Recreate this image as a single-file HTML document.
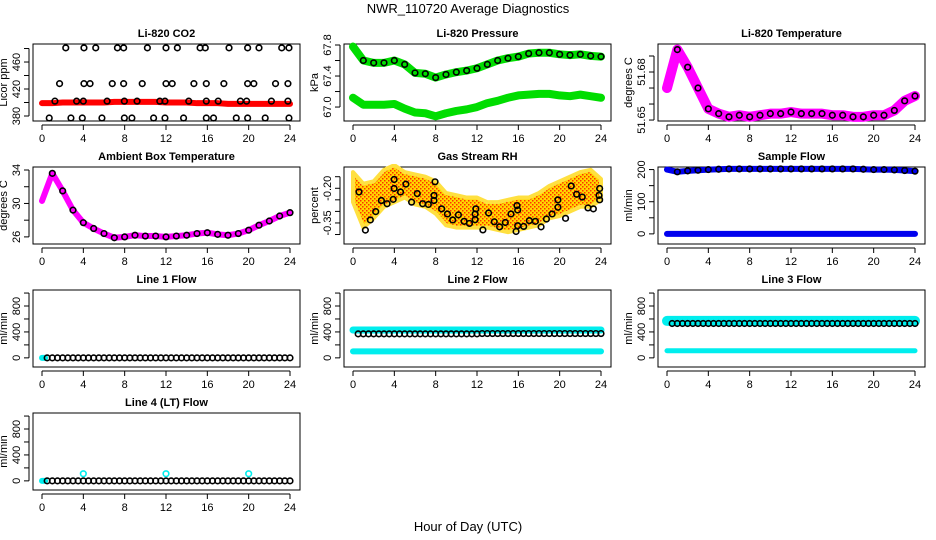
<!DOCTYPE html>
<html><head><meta charset="utf-8"><style>
body{margin:0;background:#fff;}
svg{display:block;font-family:"Liberation Sans",Arial,sans-serif;}
</style></head><body>
<svg id="chart" width="936" height="540" viewBox="0 0 936 540">
<defs>
<pattern id="rhpat" width="4" height="4" patternUnits="userSpaceOnUse"><rect width="4" height="4" fill="#ffd700"/><rect width="1.5" height="1.5" fill="#ff3000"/><rect x="2" y="2" width="1.5" height="1.5" fill="#ff3000"/></pattern>
</defs>
<text x="468" y="13" text-anchor="middle" font-size="13">NWR_110720  Average Diagnostics</text>
<text x="468" y="531" text-anchor="middle" font-size="13">Hour of Day (UTC)</text>
</svg>
<script>
// ---- data ----
const hours = [0,1,2,3,4,5,6,7,8,9,10,11,12,13,14,15,16,17,18,19,20,21,22,23,24];
const halfHours = [0.5,1,1.5,2,2.5,3,3.5,4,4.5,5,5.5,6,6.5,7,7.5,8,8.5,9,9.5,10,10.5,11,11.5,12,12.5,13,13.5,14,14.5,15,15.5,16,16.5,17,17.5,18,18.5,19,19.5,20,20.5,21,21.5,22,22.5,23,23.5,24];
const co2Band = [399,399,400,400,400,400,400,401,401,401,401,401,400,400,400,399,399,399,398,398,398,398,398,398,398];
const co2PtsHour = [2.3,4.06,5.2,7.3,7.9,10.2,12,13.1,15.3,15.8,18.1,19.9,21.0,23.2,23.9,
 1.7,4.06,4.65,6.8,7.9,9.7,12,12.6,14.7,15.9,17.6,19.9,20.5,22.6,23.8,
 1.25,3.35,4.0,6.3,7.97,9.2,11.4,11.9,14.2,15.9,17.05,19.2,19.8,22.2,23.8,
 0.7,2.8,3.9,5.8,7.97,8.7,10.8,11.9,13.7,15.9,16.6,18.8,19.9,21.6,23.9];
const co2PtsVal = [481,481,481,481,481,481,481,481,481,481,481,481,481,481,481,
 428,428,428,428,428,428,428,428,428,428,428,428,428,428,428,
 402,402,402,402,402,402,402,402,402,402,402,402,402,402,402,
 377,377,377,377,377,377,377,377,377,377,377,377,377,377,377];
const presUpper = [67.78,67.6,67.57,67.57,67.6,67.55,67.44,67.43,67.38,67.42,67.45,67.47,67.5,67.55,67.6,67.63,67.65,67.69,67.7,67.7,67.68,67.67,67.68,67.66,67.65];
const presLower = [67.12,67.03,67.03,67.03,67.04,66.98,66.93,66.92,66.88,66.92,66.95,66.97,67.0,67.05,67.08,67.12,67.15,67.16,67.17,67.17,67.15,67.14,67.16,67.14,67.12];
const liTemp = [51.67,51.694,51.683,51.67,51.657,51.654,51.652,51.653,51.652,51.653,51.654,51.654,51.655,51.654,51.654,51.654,51.653,51.653,51.652,51.652,51.653,51.653,51.656,51.662,51.665];
const ambTemp = [30.3,33.6,31.5,29.2,27.7,27.0,26.4,25.9,26.0,26.2,26.1,26.1,26.0,26.1,26.2,26.4,26.5,26.3,26.2,26.4,26.8,27.4,27.9,28.5,28.9];
const rhUpper = [-0.13,-0.18,-0.17,-0.12,-0.10,-0.13,-0.14,-0.15,-0.17,-0.22,-0.23,-0.24,-0.24,-0.26,-0.26,-0.25,-0.24,-0.24,-0.22,-0.19,-0.17,-0.15,-0.13,-0.12,-0.16];
const rhLower = [-0.26,-0.37,-0.33,-0.28,-0.26,-0.24,-0.27,-0.28,-0.31,-0.36,-0.37,-0.37,-0.37,-0.37,-0.38,-0.39,-0.38,-0.37,-0.36,-0.33,-0.32,-0.30,-0.28,-0.28,-0.25];
const rhPtsHour = [0.58,1.2,1.68,2.2,2.75,3.3,3.89,3.98,3.98,4.6,5.12,5.67,6.22,6.74,7.29,7.84,7.84,7.94,8.58,9.14,9.65,10.2,10.75,11.27,11.82,11.82,11.89,12.57,13.12,13.67,14.19,14.74,15.29,15.78,15.87,15.94,15.94,16.52,17.07,17.65,18.2,18.72,19.27,19.83,19.83,20.57,21.12,21.64,22.19,22.74,23.26,23.81,23.87,23.87];
const rhPtsVal = [-0.216,-0.381,-0.337,-0.301,-0.253,-0.267,-0.248,-0.162,-0.201,-0.216,-0.182,-0.26,-0.223,-0.267,-0.27,-0.231,-0.253,-0.172,-0.289,-0.311,-0.337,-0.315,-0.343,-0.352,-0.336,-0.311,-0.289,-0.38,-0.307,-0.345,-0.367,-0.348,-0.311,-0.387,-0.275,-0.294,-0.362,-0.365,-0.34,-0.343,-0.367,-0.333,-0.311,-0.25,-0.282,-0.33,-0.19,-0.226,-0.238,-0.285,-0.289,-0.231,-0.201,-0.25];
const sampleHi = [200,193,196,198,200,201,202,202,202,202,202,202,202,202,202,202,202,202,202,201,200,200,199,197,195];
const sampleLo = [0,0,0,0,0,0,0,0,0,0,0,0,0,0,0,0,0,0,0,0,0,0,0,0,0];
const line1Black = [0,0,0,0,0,0,0,0,0,0,0,0,0,0,0,0,0,0,0,0,0,0,0,0,0,0,0,0,0,0,0,0,0,0,0,0,0,0,0,0,0,0,0,0,0,0,0,0];
const line2Cyan = [430,430,430,430,430,430,430,430,430,430,430,430,430,430,430,430,430,430,430,430,430,430,430,430,430];
const line2Low = [100,100,100,100,100,100,100,100,100,100,100,100,100,100,100,100,100,100,100,100,100,100,100,100,100];
const line2Black = [370,370,370,370,370,370,370,370,370,370,370,370,370,370,370,370,370,370,370,370,370,370,370,370,375,375,375,375,375,375,375,375,375,375,375,375,375,375,375,375,375,375,375,375,375,375,375,375];
const line3Cyan = [570,570,570,570,570,570,570,570,570,570,570,570,570,570,570,570,570,570,570,570,570,570,570,570,570];
const line3Low = [110,110,110,110,110,110,110,110,110,110,110,110,110,110,110,110,110,110,110,110,110,110,110,110,110];
const line3Black = [530,530,530,530,530,530,530,530,530,530,530,530,530,530,530,530,530,530,530,530,530,530,530,530,530,530,530,530,530,530,530,530,530,530,530,530,530,530,530,530,530,530,530,530,530,530,530,530];
const line4Black = [0,0,0,0,0,0,0,0,0,0,0,0,0,0,0,0,0,0,0,0,0,0,0,0,0,0,0,0,0,0,0,0,0,0,0,0,0,0,0,0,0,0,0,0,0,0,0,0];
const line4OutHour = [4,12,20];
const line4OutVal = [110,110,110];
const xTicks = [0,4,8,12,16,20,24];

// ---- drawing ----
const svg = document.getElementById('chart');
const NS = 'http://www.w3.org/2000/svg';
function mk(tag, attrs, parent){const e=document.createElementNS(NS,tag);for(const k in attrs)e.setAttribute(k,attrs[k]);(parent||svg).appendChild(e);return e;}
const colL=[33,344,658], rowT=[44,167,290,413], W=267, H=77;

function panel(name,col,row,title,ylab,ymin,ymax,yticks,ylabels){
  const g=mk('g',{});
  
  
  const L=colL[col], T=rowT[row];
  const sx=h=>L+9+h*(248/24);
  const sy=v=>T+H-(v-ymin)/(ymax-ymin)*H;
  const box=mk('rect',{x:L,y:T,width:W,height:H,fill:'none',stroke:'#000','stroke-width':1},g);
  
  
  const t=mk('text',{x:L+W/2,y:T-7,'text-anchor':'middle','font-size':11,'font-weight':'bold'},g);
  t.textContent=title;
  
  
  const xa=mk('g',{},g);
  
  
  mk('line',{x1:sx(0),x2:sx(24),y1:T+H+4,y2:T+H+4,stroke:'#000'},xa);
  xTicks.forEach(v=>{mk('line',{x1:sx(v),x2:sx(v),y1:T+H+4,y2:T+H+9,stroke:'#000'},xa);
    const tx=mk('text',{x:sx(v),y:T+H+21,'text-anchor':'middle','font-size':11},xa);tx.textContent=v;});
  const ya=mk('g',{},g);
  
  
  mk('line',{x1:L-4,x2:L-4,y1:sy(yticks[0]),y2:sy(yticks[yticks.length-1]),stroke:'#000'},ya);
  yticks.forEach(v=>mk('line',{x1:L-4,x2:L-9,y1:sy(v),y2:sy(v),stroke:'#000'},ya));
  ylabels.forEach(v=>{const y=sy(v);const tx=mk('text',{x:L-13,y:y,'text-anchor':'middle','font-size':11,transform:`rotate(-90 ${L-13} ${y})`},ya);tx.textContent=v;});
  const yl=mk('text',{x:L-26,y:T+H/2,'text-anchor':'middle','font-size':11,transform:`rotate(-90 ${L-26} ${T+H/2})`},g);
  yl.textContent=ylab;
  
  
  const clipId='c'+name;
  const cp=mk('clipPath',{id:clipId},g);mk('rect',{x:L,y:T-3,width:W,height:H+6},cp);
  const plot=mk('g',{'clip-path':`url(#${clipId})`},g);
  return {sx,sy,plot};
}
function band(p,xs,vals,color,w,nm){
  const d=xs.map((h,i)=>(i?'L':'M')+p.sx(h)+','+p.sy(vals[i])).join(' ');
  const e=mk('path',{d:d,fill:'none',stroke:color,'stroke-width':w,'stroke-linejoin':'round','stroke-linecap':'round'},p.plot);
  
  
}
function pts(p,xs,vals,color,nm,r){
  xs.forEach((h,i)=>{const c=mk('circle',{cx:p.sx(h),cy:p.sy(vals[i]),r:r||2.8,fill:'none',stroke:color,'stroke-width':1.6},p.plot);
    
    });
}
const hrs1 = hours.slice(1);

let p=panel('co2',0,0,'Li-820 CO2','Licor ppm',372.6,486.7,[380,400,420,440,460,480],[380,420,460]);
band(p,hours,co2Band,'#ff0000',6,'co2-band');
pts(p,co2PtsHour,co2PtsVal,'#000','co2-point');

p=panel('pressure',1,0,'Li-820 Pressure','kPa',66.82,67.813,[67.0,67.2,67.4,67.6,67.8],['67.0','67.4','67.8']);
band(p,hours,presUpper,'#00dd00',8,'pressure-upper-band');
band(p,hours,presLower,'#00dd00',8,'pressure-lower-band');
pts(p,hrs1,presUpper.slice(1),'#000','pressure-point');

p=panel('li-temp',2,0,'Li-820 Temperature','degrees C',51.6494,51.6975,[51.65,51.66,51.67,51.68,51.69],['51.65','51.68']);
band(p,hours,liTemp,'#ff00ff',10,'li-temp-band');
pts(p,hrs1,liTemp.slice(1),'#000','li-temp-point');

p=panel('ambient',0,1,'Ambient Box Temperature','degrees C',25.15,34.36,[26,28,30,32,34],[26,30,34]);
band(p,hours,ambTemp,'#ff00ff',6,'ambient-band');
pts(p,hrs1,ambTemp.slice(1),'#000','ambient-point');

p=panel('rh',1,1,'Gas Stream RH','percent',-0.441,-0.108,[-0.40,-0.35,-0.30,-0.25,-0.20,-0.15],['-0.35','-0.20']);
{const d=hours.map((h,i)=>(i?'L':'M')+p.sx(h)+','+p.sy(rhUpper[i])).join(' ')+' '+hours.slice().reverse().map((h,i)=>'L'+p.sx(h)+','+p.sy(rhLower[24-i])).join(' ')+'Z';
 const e=mk('path',{d:d,fill:'url(#rhpat)',stroke:'#ffe040','stroke-width':4,'stroke-linejoin':'round'},p.plot);
 
 }
pts(p,rhPtsHour,rhPtsVal,'#000','rh-point');

p=panel('sample-flow',2,1,'Sample Flow','ml/min',-31.5,208,[0,50,100,150,200],[0,100,200]);
band(p,hours,sampleHi,'#0000ee',6,'sample-flow-high-band');
band(p,hours,sampleLo,'#0000ee',6,'sample-flow-low-band');
pts(p,hrs1,sampleHi.slice(1),'#000','sample-flow-point');

const fT=[0,200,400,600,800,1000], fL=[0,400,800];
p=panel('line1',0,2,'Line 1 Flow','ml/min',-141,1047,fT,fL);
band(p,[0,0.3],[0,0],'#00eeee',6,'line1-cyan');
pts(p,halfHours,line1Black,'#000','line1-point');

p=panel('line2',1,2,'Line 2 Flow','ml/min',-141,1047,fT,fL);
band(p,hours,line2Cyan,'#00eeee',7,'line2-upper-band');
band(p,hours,line2Low,'#00eeee',6,'line2-lower-band');
pts(p,halfHours,line2Black,'#000','line2-point');

p=panel('line3',2,2,'Line 3 Flow','ml/min',-141,1047,fT,fL);
band(p,hours,line3Cyan,'#00eeee',10,'line3-upper-band');
band(p,hours,line3Low,'#00eeee',5,'line3-lower-band');
pts(p,halfHours,line3Black,'#000','line3-point');

p=panel('line4',0,3,'Line 4 (LT) Flow','ml/min',-141,1047,fT,fL);
band(p,[0,0.3],[0,0],'#00eeee',6,'line4-cyan');
pts(p,halfHours,line4Black,'#000','line4-point');
pts(p,line4OutHour,line4OutVal,'#00eeee','line4-outlier');
</script>
</body></html>
